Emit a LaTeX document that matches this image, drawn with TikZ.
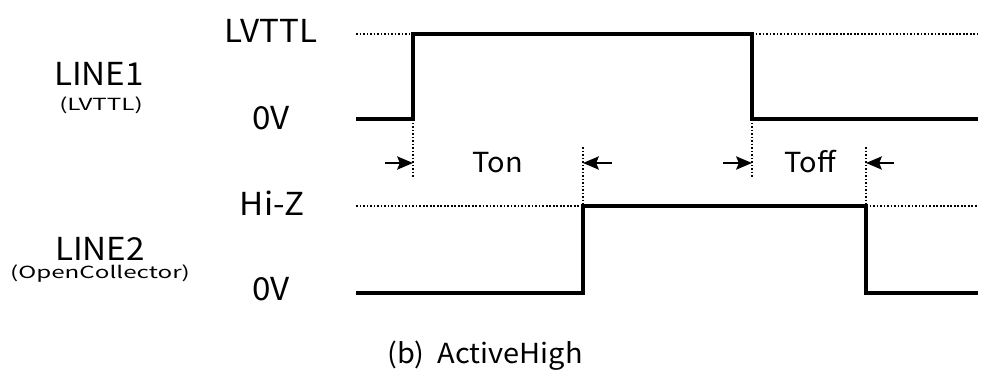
\documentclass[tikz,border=0pt]{standalone}
\usepackage{fontspec}
\setmainfont[FakeStretch=1.05]{Noto Sans CJK JP}
\newfontfamily\widefont[FakeStretch=1.45]{Noto Sans CJK JP}
\usepackage{tikz}
\usetikzlibrary{arrows.meta}
\tikzstyle{arrow} = [line width=1.1pt,-{Stealth[length=9pt,width=7.5pt,inset=1.5pt]}]
\tikzstyle{wave} = [line width=1.8pt, line join=miter]
\tikzstyle{level} = [line width=0.75pt, dash pattern=on 1pt off 1pt]
\tikzstyle{big} = [anchor=base, inner sep=0pt, font=\fontsize{18}{21}\selectfont]
\tikzstyle{small} = [anchor=base, inner sep=0pt, font=\widefont\fontsize{9.5}{11}\selectfont]
\tikzstyle{mid} = [anchor=base, inner sep=0pt, font=\fontsize{15.7}{18}\selectfont]

\begin{document}
\begin{tikzpicture}[x=0.02cm,y=-0.02cm]
                \useasboundingbox (0,0) rectangle (985,383);

                % LINE1
                \node (n1) [big] at (99,85) {LINE1};
                \node (n1s) [small] at (101,110) {(LVTTL)};
                \node (hi1) [big] at (271,42) {LVTTL};
                \node (lo1) [big] at (271,129) {0V};

                \coordinate (a0) at (356,119);
                \coordinate (a1) at (413,119);
                \coordinate (a2) at (413,34);
                \coordinate (a3) at (752,34);
                \coordinate (a4) at (752,119);
                \coordinate (a5) at (978,119);
                \coordinate (d1) at (356,34);
                \coordinate (d2) at (978,34);

                \draw [level] (d1) -- (a2);
                \draw [level] (a3) -- (d2);
                \draw [wave] (a0) -- (a1) -- (a2) -- (a3) -- (a4) -- (a5);

                % LINE2
                \node (n2) [big] at (100,260) {LINE2};
                \node (n2s) [small] at (100,278) {(OpenCollector)};
                \node (hi2) [big] at (272,215) {Hi-Z};
                \node (lo2) [big] at (271,300) {0V};

                \coordinate (b0) at (356,293);
                \coordinate (b1) at (583,293);
                \coordinate (b2) at (583,206);
                \coordinate (b3) at (866,206);
                \coordinate (b4) at (866,293);
                \coordinate (b5) at (978,293);
                \coordinate (e1) at (356,206);
                \coordinate (e2) at (978,206);

                \draw [level] (e1) -- (b2);
                \draw [level] (b3) -- (e2);
                \draw [wave] (b0) -- (b1) -- (b2) -- (b3) -- (b4) -- (b5);

                % timing marks
                \coordinate (v1) at (413,177);
                \coordinate (v2) at (583,147);
                \coordinate (v3) at (752,177);
                \coordinate (v4) at (866,147);
                \draw [level] (a1) -- (v1);
                \draw [level] (v2) -- (b2);
                \draw [level] (a4) -- (v3);
                \draw [level] (v4) -- (b3);

                \coordinate (p1) at (385,163);
                \coordinate (q1) at (413,163);
                \coordinate (p2) at (612,163);
                \coordinate (q2) at (583,163);
                \coordinate (p3) at (723,163);
                \coordinate (q3) at (752,163);
                \coordinate (p4) at (894,163);
                \coordinate (q4) at (866,163);

                \draw [arrow] (p1) -- (q1);
                \draw [arrow] (p2) -- (q2);
                \draw [arrow] (p3) -- (q3);
                \draw [arrow] (p4) -- (q4);

                \node (ton) [mid] at (498,172) {Ton};
                \node (toff) [mid] at (810,172) {Toff};

                \node (cap) [mid] at (485,363) {(b)\ \ ActiveHigh};
            \end{tikzpicture}
\end{document}
